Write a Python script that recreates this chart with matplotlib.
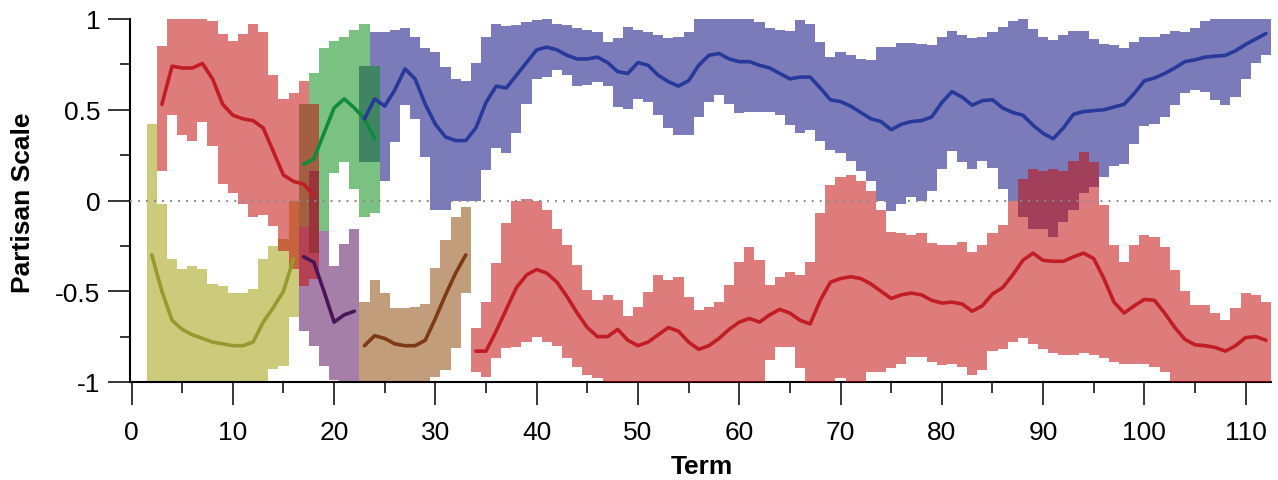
import numpy as np
import matplotlib
matplotlib.use("Agg")
import matplotlib.pyplot as plt
from matplotlib.ticker import MultipleLocator

plt.rcParams['font.family'] = ['Liberation Sans', 'DejaVu Sans']
plt.rcParams['axes.unicode_minus'] = False

# ---------------- data ----------------
x_ticks = [0, 10, 20, 30, 40, 50, 60, 70, 80, 90, 100, 110]
y_ticks = [-1, -0.5, 0, 0.5, 1]
y_tick_labels = ["-1", "-0.5", "0", "0.5", "1"]

olive_terms = list(range(2, 17))
olive_hi = [0.42, -0.02, -0.32, -0.38, -0.36, -0.38, -0.46, -0.47, -0.51, -0.51, -0.49, -0.32, -0.25, -0.21, 0.0]
olive_lo = [-1, -1, -1, -1, -1, -1, -1, -1, -1, -1, -1, -1, -0.93, -0.91, -0.64]
olive_mean = [-0.30, -0.50, -0.66, -0.71, -0.74, -0.76, -0.78, -0.79, -0.80, -0.80, -0.78, -0.67, -0.59, -0.50, -0.32]

red1_terms = list(range(3, 19))
red1_hi = [0.85, 1.0, 1.0, 1.0, 1.0, 0.99, 0.915, 0.88, 0.915, 0.97, 0.93, 0.69, 0.56, 0.59, 0.66, 0.53]
red1_lo = [0.16, 0.47, 0.36, 0.33, 0.43, 0.30, 0.09, 0.04, -0.02, -0.09, -0.08, -0.14, -0.28, -0.38, -0.47, -0.43]
red1_mean = [0.53, 0.74, 0.73, 0.73, 0.755, 0.67, 0.53, 0.47, 0.45, 0.44, 0.40, 0.27, 0.14, 0.105, 0.09, 0.03]

green_terms = list(range(17, 25))
green_hi = [0.53, 0.70, 0.84, 0.88, 0.90, 0.94, 0.975, 0.74]
green_lo = [-0.145, -0.29, -0.17, 0.15, 0.21, 0.066, -0.09, -0.07]
green_mean = [0.20, 0.23, 0.37, 0.51, 0.56, 0.51, 0.45, 0.34]

purple_terms = list(range(17, 23))
purple_hi = [-0.145, 0.16, -0.17, -0.36, -0.24, -0.155]
purple_lo = [-0.72, -0.80, -0.91, -0.99, -1.0, -1.0]
purple_mean = [-0.31, -0.34, -0.50, -0.67, -0.63, -0.61]

brown_terms = list(range(23, 34))
brown_hi = [-0.56, -0.44, -0.51, -0.595, -0.595, -0.585, -0.57, -0.37, -0.22, -0.09, -0.035]
brown_lo = [-1, -1, -1, -1, -1, -1, -1, -0.97, -0.935, -0.815, -0.51]
brown_mean = [-0.80, -0.745, -0.76, -0.79, -0.80, -0.80, -0.77, -0.65, -0.52, -0.40, -0.30]

blue_terms = list(range(23, 113))
blue_hi = [0.74, 0.93, 0.93, 0.94, 0.95, 0.90, 0.84, 0.82, 0.735, 0.67,
           0.66, 0.76, 0.90, 0.975, 0.96, 0.965, 0.985, 0.995, 1.0, 0.975,
           0.965, 0.95, 0.94, 0.93, 0.875, 0.895, 0.955, 0.94, 0.93, 0.91,
           0.895, 0.90, 0.93, 1.0, 1.0, 1.0, 1.0, 1.0, 1.0, 0.985,
           0.95, 0.94, 0.935, 0.995, 0.975, 0.875, 0.79, 0.82, 0.80, 0.78,
           0.775, 0.845, 0.845, 0.87, 0.87, 0.865, 0.855, 0.90, 0.935, 0.91,
           0.895, 0.90, 0.93, 0.955, 0.99, 1.0, 0.945, 0.90, 0.885, 0.91,
           0.935, 0.935, 0.89, 0.86, 0.855, 0.84, 0.875, 0.90, 0.90, 0.915,
           0.935, 0.93, 0.95, 0.99, 1.0, 1.0, 1.0, 1.0, 1.0, 1.0]
blue_lo = [0.21, 0.21, 0.11, 0.32, 0.525, 0.45, 0.24, -0.05, -0.05, 0.0,
           0.0, 0.0, 0.17, 0.29, 0.26, 0.37, 0.53, 0.67, 0.68, 0.72,
           0.69, 0.63, 0.635, 0.655, 0.63, 0.515, 0.505, 0.56, 0.545, 0.47,
           0.40, 0.36, 0.36, 0.46, 0.545, 0.58, 0.53, 0.48, 0.49, 0.49,
           0.49, 0.47, 0.415, 0.37, 0.39, 0.33, 0.28, 0.26, 0.215, 0.165,
           0.11, -0.005, -0.06, -0.02, 0.02, 0.0, 0.05, 0.175, 0.27, 0.21,
           0.175, 0.215, 0.18, 0.065, -0.005, -0.09, -0.155, -0.155, -0.20, -0.12,
           -0.05, 0.04, 0.075, 0.13, 0.19, 0.20, 0.31, 0.41, 0.42, 0.46,
           0.525, 0.59, 0.61, 0.60, 0.555, 0.525, 0.57, 0.67, 0.755, 0.80]
blue_mean = [0.45, 0.56, 0.52, 0.61, 0.725, 0.67, 0.53, 0.42, 0.35, 0.33,
             0.33, 0.40, 0.54, 0.63, 0.62, 0.69, 0.76, 0.83, 0.845, 0.83,
             0.80, 0.78, 0.78, 0.79, 0.76, 0.71, 0.70, 0.76, 0.745, 0.69,
             0.655, 0.63, 0.66, 0.745, 0.80, 0.81, 0.78, 0.765, 0.765, 0.745,
             0.73, 0.70, 0.67, 0.68, 0.68, 0.62, 0.555, 0.545, 0.52, 0.485,
             0.45, 0.435, 0.39, 0.42, 0.435, 0.44, 0.46, 0.54, 0.60, 0.57,
             0.525, 0.55, 0.555, 0.51, 0.485, 0.47, 0.415, 0.37, 0.34, 0.40,
             0.475, 0.49, 0.495, 0.50, 0.515, 0.53, 0.59, 0.66, 0.675, 0.70,
             0.73, 0.765, 0.775, 0.79, 0.795, 0.80, 0.825, 0.86, 0.89, 0.92]

red2_terms = list(range(34, 113))
red2_hi = [-0.705, -0.56, -0.345, -0.125, 0.0, 0.01, 0.0, -0.055, -0.155, -0.245,
           -0.355, -0.495, -0.55, -0.52, -0.55, -0.635, -0.585, -0.505, -0.41, -0.44,
           -0.42, -0.53, -0.605, -0.585, -0.56, -0.465, -0.34, -0.255, -0.33, -0.465,
           -0.42, -0.395, -0.41, -0.34, -0.07, 0.085, 0.13, 0.14, 0.11, 0.055,
           -0.055, -0.175, -0.18, -0.19, -0.18, -0.235, -0.245, -0.245, -0.23, -0.285,
           -0.245, -0.18, -0.135, -0.005, 0.12, 0.175, 0.16, 0.175, 0.165, 0.22,
           0.265, 0.21, -0.025, -0.245, -0.34, -0.245, -0.19, -0.20, -0.255, -0.385,
           -0.50, -0.575, -0.575, -0.62, -0.66, -0.595, -0.51, -0.52, -0.56]
red2_lo = [-0.945, -0.97, -0.87, -0.815, -0.805, -0.78, -0.75, -0.78, -0.80, -0.87,
           -0.915, -0.96, -0.98, -1, -1, -1, -1, -1, -1, -1,
           -1, -1, -1, -1, -1, -1, -1, -1, -1, -0.88,
           -0.805, -0.805, -0.925, -1, -1, -1, -0.98, -1, -1, -0.945,
           -0.945, -0.925, -0.90, -0.86, -0.86, -0.89, -0.905, -0.90, -0.915, -0.96,
           -0.935, -0.83, -0.82, -0.78, -0.76, -0.79, -0.82, -0.84, -0.85, -0.85,
           -0.84, -0.85, -0.87, -0.89, -0.90, -0.90, -0.90, -0.915, -0.945, -1,
           -1, -1, -1, -1, -1, -1, -1, -1, -1]
red2_mean = [-0.83, -0.83, -0.72, -0.60, -0.48, -0.41, -0.38, -0.40, -0.45, -0.53,
             -0.62, -0.70, -0.75, -0.75, -0.71, -0.77, -0.80, -0.78, -0.74, -0.70,
             -0.72, -0.78, -0.82, -0.80, -0.76, -0.71, -0.67, -0.65, -0.67, -0.63,
             -0.60, -0.62, -0.66, -0.68, -0.55, -0.45, -0.43, -0.42, -0.43, -0.46,
             -0.50, -0.54, -0.52, -0.51, -0.52, -0.55, -0.565, -0.56, -0.57, -0.61,
             -0.58, -0.515, -0.48, -0.41, -0.33, -0.29, -0.33, -0.335, -0.335, -0.31,
             -0.29, -0.32, -0.43, -0.56, -0.62, -0.58, -0.545, -0.55, -0.62, -0.70,
             -0.765, -0.795, -0.80, -0.81, -0.83, -0.80, -0.755, -0.75, -0.77]

# ---------------- styles ----------------
BAND_ALPHA = 0.55
band_colors = {
    'blue': (15/255, 15/255, 128/255),
    'green': (15/255, 142/255, 28/255),
    'olive': (162/255, 160/255, 15/255),
    'purple': (93/255, 22/255, 99/255),
    'brown': (142/255, 77/255, 15/255),
    'red': (195/255, 15/255, 15/255),
}
line_colors = {
    'blue': '#27399a',
    'green': '#108a3e',
    'olive': '#979a2e',
    'purple': '#4a1459',
    'brown': '#7e3a14',
    'red': '#c11d24',
}

fig = plt.figure(figsize=(12.78, 4.81), dpi=100)
W, H = 1278, 481
ax = fig.add_axes([130 / W, 1 - 383 / H, 1141 / W, 363 / H])


def band(terms, lo, hi, key, z):
    t = np.asarray(terms, dtype=float)
    edges = np.append(t - 0.5, t[-1] + 0.5)
    ax.stairs(np.asarray(hi, float), edges, baseline=np.asarray(lo, float), fill=True,
              color=band_colors[key], alpha=BAND_ALPHA, linewidth=0, zorder=z)


def mean_line(terms, vals, key):
    ax.plot(terms, vals, color=line_colors[key], lw=2.6, solid_joinstyle='round',
            solid_capstyle='round', zorder=6)


band(blue_terms, blue_lo, blue_hi, 'blue', 1)
band(green_terms, green_lo, green_hi, 'green', 2)
band(olive_terms, olive_lo, olive_hi, 'olive', 2)
band(purple_terms, purple_lo, purple_hi, 'purple', 2.1)
band(brown_terms, brown_lo, brown_hi, 'brown', 2)
band(red1_terms, red1_lo, red1_hi, 'red', 3)
band(red2_terms, red2_lo, red2_hi, 'red', 3)

ax.axhline(0, color='#8a8a8a', lw=1.5, linestyle=(0, (0.9, 2.95)), zorder=4)

mean_line(olive_terms, olive_mean, 'olive')
mean_line(red1_terms, red1_mean, 'red')
mean_line(green_terms, green_mean, 'green')
mean_line(purple_terms, purple_mean, 'purple')
mean_line(brown_terms, brown_mean, 'brown')
mean_line(blue_terms, blue_mean, 'blue')
mean_line(red2_terms, red2_mean, 'red')

ax.set_xlim(-0.15, 112.5)
ax.set_ylim(-1, 1)

for s in ['top', 'right']:
    ax.spines[s].set_visible(False)
for s in ['left', 'bottom']:
    ax.spines[s].set_linewidth(1.5)
    ax.spines[s].set_color('black')

ax.set_xticks(x_ticks)
ax.set_xticklabels([str(v) for v in x_ticks])
ax.xaxis.set_minor_locator(MultipleLocator(5))
ax.set_yticks(y_ticks)
ax.set_yticklabels(y_tick_labels)
ax.yaxis.set_minor_locator(MultipleLocator(0.25))

ax.tick_params(axis='x', which='major', direction='out', length=16.5, width=1.1, pad=11, labelsize=19)
ax.tick_params(axis='x', which='minor', direction='out', length=8, width=1.1)
ax.tick_params(axis='y', which='major', direction='out', length=16, width=1.1, pad=5.5, labelsize=19)
ax.tick_params(axis='y', which='minor', direction='out', length=7.5, width=1.1)

fig.text(702 / W, 1 - 467 / H, 'Term', ha='center', va='center', fontsize=19, fontweight='bold')
fig.text(23 / W, 1 - 203 / H, 'Partisan Scale', ha='center', va='center', rotation=90,
         fontsize=19, fontweight='bold')

fig.savefig('out.png', dpi=100)
